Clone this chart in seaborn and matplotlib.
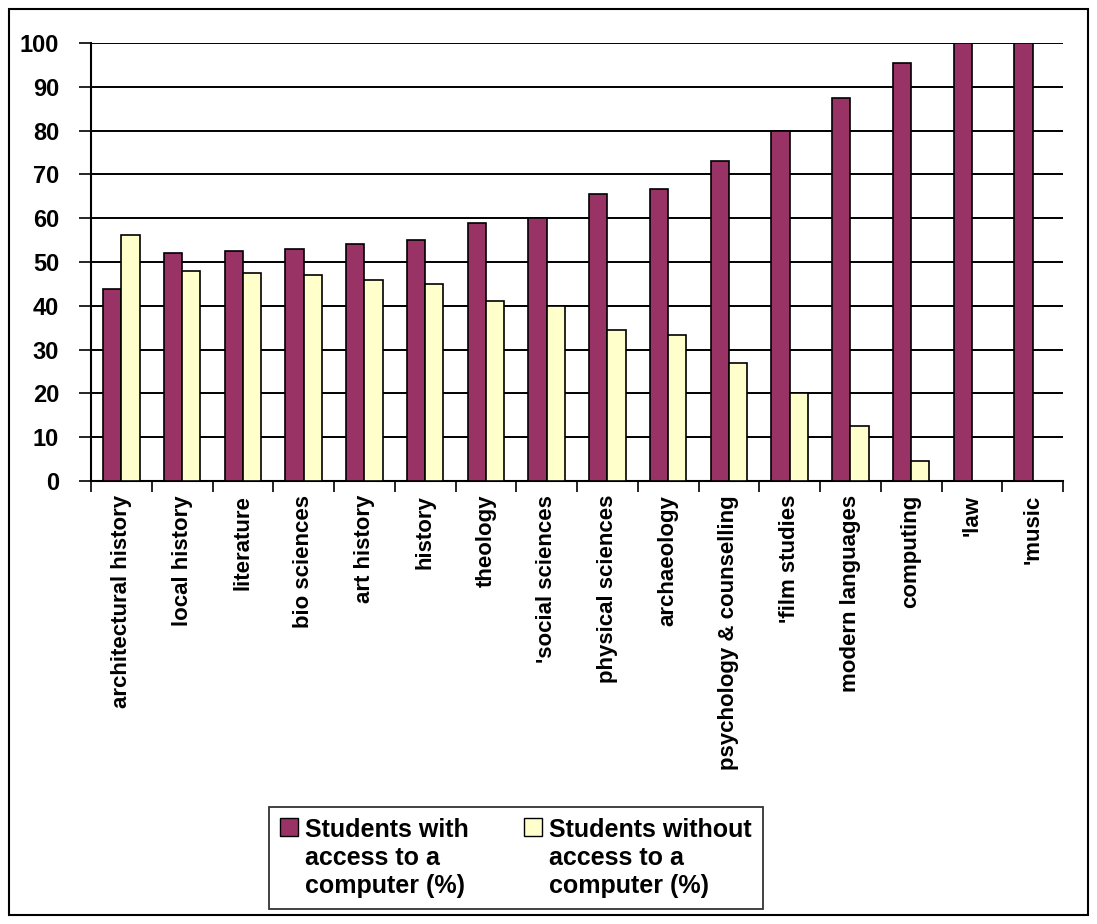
import matplotlib
matplotlib.use("Agg")
import matplotlib.pyplot as plt
import matplotlib.patches as mpatches
import seaborn as sns
import pandas as pd
import numpy as np

categories = ["architectural history", "local history", "literature", "bio sciences",
              "art history", "history", "theology", "'social sciences",
              "physical sciences", "archaeology", "psychology & counselling",
              "'film studies", "modern languages", "computing", "'law", "'music"]
with_access = [43.75, 52, 52.5, 53, 54, 55, 59, 60, 65.5, 66.7, 73, 80, 87.5, 95.5, 100, 100]
without_access = [56.25, 48, 47.5, 47, 46, 45, 41, 40, 34.5, 33.3, 27, 20, 12.5, 4.5, 0, 0]
series_names = ["Students with\naccess to a\ncomputer (%)",
                "Students without\naccess to a\ncomputer (%)"]
yticks = [0, 10, 20, 30, 40, 50, 60, 70, 80, 90, 100]

sns.set_theme(style="white")
plt.rcParams['font.family'] = ['Liberation Sans', 'DejaVu Sans']
plt.rcParams['font.weight'] = 'bold'
plt.rcParams['text.color'] = 'black'
plt.rcParams['xtick.color'] = 'black'
plt.rcParams['ytick.color'] = 'black'
plt.rcParams['xtick.labelcolor'] = 'black'
plt.rcParams['ytick.labelcolor'] = 'black'

df = pd.DataFrame({
    "category": categories * 2,
    "value": with_access + without_access,
    "series": [series_names[0]] * len(categories) + [series_names[1]] * len(categories),
})

fig = plt.figure(figsize=(10.97, 9.24), dpi=100)
ax = fig.add_axes([91/1097, 1 - 481/924, (1063 - 91)/1097, (481 - 43)/924])

sns.barplot(data=df, x="category", y="value", hue="series", order=categories,
            hue_order=series_names, palette=["#993366", "#FFFFCC"],
            width=0.6, gap=0, edgecolor="black", linewidth=1.2, saturation=1,
            ax=ax, legend=False, zorder=3)

ax.set_xlim(-0.5, len(categories) - 0.5)
ax.set_ylim(0, 100)
ax.set_yticks(yticks)
ax.set_yticklabels([str(t) for t in yticks], fontsize=17, fontweight='bold', color='black')
ax.yaxis.grid(True, color="black", linewidth=1.4, zorder=0)
ax.set_axisbelow(True)
ax.set_xlabel("")
ax.set_ylabel("")

ax.set_xticks(range(len(categories)))
ax.set_xticklabels(categories, rotation=90, fontsize=16, fontweight='bold', va='top', color='black')
ax.tick_params(axis='x', which='major', length=0, pad=10)
ax.set_xticks(np.arange(-0.5, len(categories), 1.0), minor=True)
ax.tick_params(axis='x', which='minor', length=8, width=1.2, color='black', direction='out', bottom=True)
ax.tick_params(axis='y', which='major', length=9, width=1.2, color='black', direction='out', left=True, pad=14)

for s in ['top', 'right']:
    ax.spines[s].set_visible(False)
for s in ['left', 'bottom']:
    ax.spines[s].set_color('black')
    ax.spines[s].set_linewidth(1.5)

handles = [mpatches.Patch(facecolor="#993366", edgecolor="black", linewidth=1),
           mpatches.Patch(facecolor="#FFFFCC", edgecolor="black", linewidth=1)]
leg = fig.legend(handles, series_names, loc='center', bbox_to_anchor=(516/1097, 1 - 858/924),
                 ncol=2, frameon=True, fancybox=False, prop={'size': 18, 'weight': 'bold'},
                 handlelength=0.7, handleheight=0.7, columnspacing=2.2, handletextpad=0.3,
                 borderpad=0.45, labelspacing=0.3)
leg.get_frame().set_edgecolor('black')
leg.get_frame().set_linewidth(1.3)
for t in leg.get_texts():
    t.set_color('black')
try:
    for col in leg._legend_handle_box.get_children():
        for item in col.get_children():
            item.align = "top"
except Exception:
    pass

fig.patches.append(mpatches.Rectangle((9/1097, 9/924), (1088 - 9)/1097, (915 - 9)/924,
                                      transform=fig.transFigure, fill=False,
                                      edgecolor='black', linewidth=1.5))

fig.savefig("out.png", dpi=100)
